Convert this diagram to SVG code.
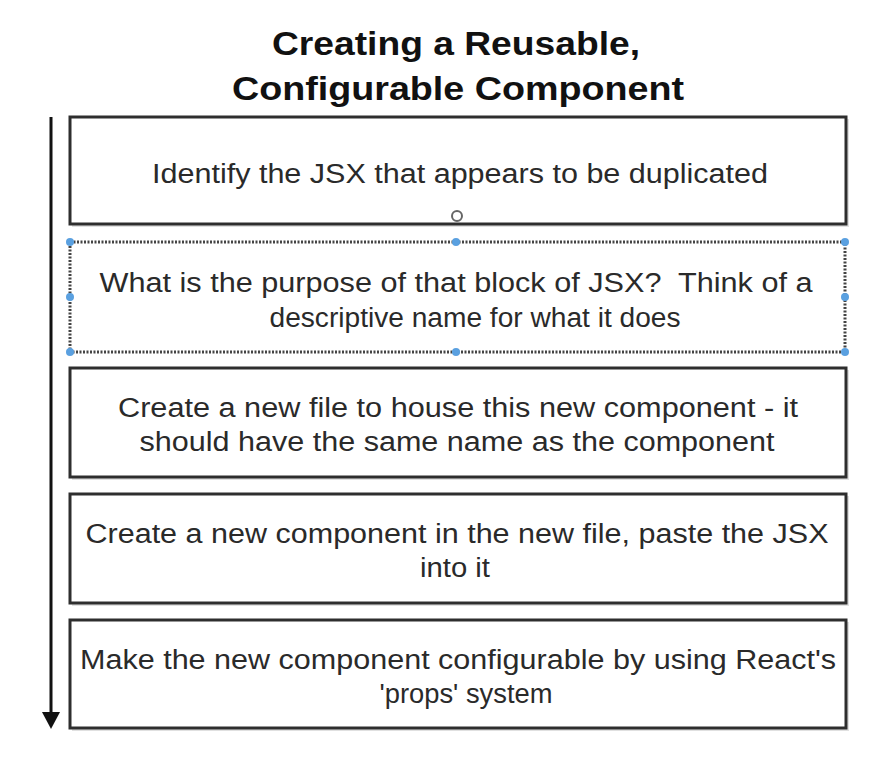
<svg xmlns="http://www.w3.org/2000/svg" width="892" height="763" viewBox="0 0 892 763">
<defs>
<style>
.box{fill:#fff;stroke:#2e2e2e;stroke-width:3}
.sel{fill:none;stroke:#444;stroke-width:3;stroke-dasharray:2 1.5}
.shadow{fill:#000;opacity:0.12}
.t{font-family:"Liberation Sans",Arial,sans-serif;font-size:27px;fill:#2a2a2a;text-anchor:middle}
.title{font-family:"Liberation Sans",Arial,sans-serif;font-size:34px;font-weight:bold;fill:#111;text-anchor:middle}
.h{fill:#5aa0e0}
</style>
</defs>
<rect width="892" height="763" fill="#fff"/>
<g id="title">
<text class="title" x="456" y="55" textLength="368" lengthAdjust="spacingAndGlyphs">Creating a Reusable,</text>
<text class="title" x="458" y="100" textLength="452" lengthAdjust="spacingAndGlyphs">Configurable Component</text>
</g>
<g id="connectors">
<line x1="51" y1="117" x2="51" y2="714" stroke="#111" stroke-width="3"/>
<path d="M42,712 L60,712 L51,729 Z" fill="#111"/>
</g>
<g id="node1">
<rect class="shadow" x="72" y="119" width="777" height="108"/>
<rect class="box" x="70" y="117" width="776" height="107"/>
<text class="t" x="460" y="183" textLength="616" lengthAdjust="spacingAndGlyphs">Identify the JSX that appears to be duplicated</text>
</g>
<g id="node2">
<rect x="70" y="242" width="775" height="110" fill="#fff"/>
<rect class="sel" x="70" y="242" width="775" height="110"/>
<text class="t" x="456" y="292" textLength="713" lengthAdjust="spacingAndGlyphs" xml:space="preserve">What is the purpose of that block of JSX?  Think of a</text>
<text class="t" x="475" y="327" textLength="411" lengthAdjust="spacingAndGlyphs">descriptive name for what it does</text>
<g class="h">
<circle cx="70" cy="242" r="4"/><circle cx="456" cy="242" r="4"/><circle cx="845" cy="242" r="4"/>
<circle cx="70" cy="297" r="4"/><circle cx="845" cy="297" r="4"/>
<circle cx="70" cy="352" r="4"/><circle cx="456" cy="352" r="4"/><circle cx="845" cy="352" r="4"/>
</g>
<circle cx="457" cy="216" r="5" fill="#fff" stroke="#666" stroke-width="2"/>
</g>
<g id="node3">
<rect class="shadow" x="72" y="370" width="777" height="110"/>
<rect class="box" x="70" y="368" width="776" height="109"/>
<text class="t" x="458" y="417" textLength="680" lengthAdjust="spacingAndGlyphs">Create a new file to house this new component - it</text>
<text class="t" x="457" y="451" textLength="635" lengthAdjust="spacingAndGlyphs">should have the same name as the component</text>
</g>
<g id="node4">
<rect class="shadow" x="72" y="496" width="777" height="110"/>
<rect class="box" x="70" y="494" width="776" height="109"/>
<text class="t" x="457" y="543" textLength="743" lengthAdjust="spacingAndGlyphs">Create a new component in the new file, paste the JSX</text>
<text class="t" x="455" y="577" textLength="70" lengthAdjust="spacingAndGlyphs">into it</text>
</g>
<g id="node5">
<rect class="shadow" x="72" y="622" width="777" height="109"/>
<rect class="box" x="70" y="620" width="776" height="108"/>
<text class="t" x="458" y="669" textLength="756" lengthAdjust="spacingAndGlyphs">Make the new component configurable by using React's</text>
<text class="t" x="466" y="703" textLength="173" lengthAdjust="spacingAndGlyphs">'props' system</text>
</g>
</svg>
